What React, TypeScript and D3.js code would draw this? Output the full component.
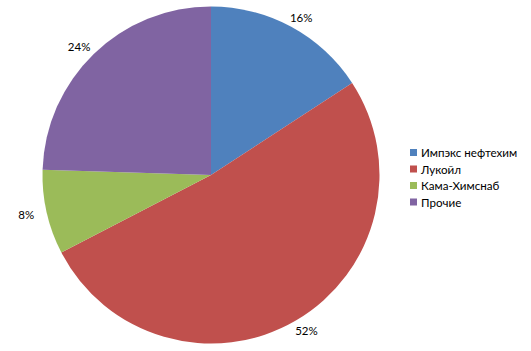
import React from "react";
import * as d3 from "d3";

const categories = ["Импэкс нефтехим", "Лукойл", "Кама-Химснаб", "Прочие"];
const values = [15.8, 51.6, 8.1, 24.5];
const labels = ["16%", "52%", "8%", "24%"];
const colors = ["#4F81BD", "#C0504D", "#9BBB59", "#8064A2"];

export default function App() {
  const W = 531, H = 351;
  const cx = 211, cy = 175, R = 168.5;
  const pie = d3.pie<number>().sort(null).value((d) => d)(values);
  const arc = d3.arc<d3.PieArcDatum<number>>().innerRadius(0).outerRadius(R);
  const labelRx = R + 21, labelRy = R + 11;
  const font = "Lato, 'Open Sans', sans-serif";
  return (
    <svg width={W} height={H} style={{ position: "absolute", left: 0, top: 0, background: "#fff" }}>
      <g transform={`translate(${cx},${cy})`}>
        {pie.map((p, i) => (
          <path key={i} d={arc(p) || ""} fill={colors[i]} />
        ))}
        {pie.map((p, i) => {
          const a = (p.startAngle + p.endAngle) / 2;
          const x = Math.sin(a) * labelRx;
          const y = -Math.cos(a) * labelRy;
          return (
            <text key={i} x={x} y={y} textAnchor="middle" dominantBaseline="central"
              fontFamily={font} fontSize={11.5} fill="#000">{labels[i]}</text>
          );
        })}
      </g>
      <g transform="translate(410,152.5)">
        {categories.map((c, i) => (
          <g key={i} transform={`translate(0,${i * 16.5})`}>
            <rect x={0} y={-3.5} width={7} height={7} fill={colors[i]} />
            <text x={11} y={0} dominantBaseline="central" fontFamily={font} fontSize={11.6} fill="#000">{c}</text>
          </g>
        ))}
      </g>
    </svg>
  );
}
